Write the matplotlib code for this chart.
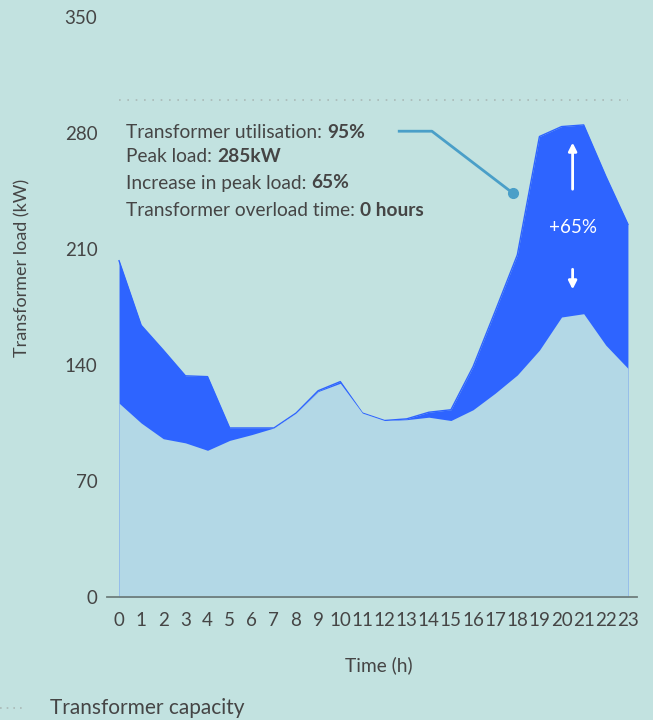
import matplotlib.pyplot as plt
from matplotlib.lines import Line2D
import numpy as np

plt.rcParams['font.family'] = ['Lato', 'DejaVu Sans']

hours = list(range(24))
base_load = [117, 105, 95.5, 93, 88.5, 94.5, 98, 102, 111, 124, 129, 111,
             106.5, 107, 108.5, 106.5, 113, 123, 134, 149, 169, 171, 152, 138]
new_load = [203, 164, 149, 133.5, 133, 102, 102, 102, 111, 124.5, 130, 111,
            106.5, 107.5, 111.5, 113, 139, 172.5, 206.5, 278, 284, 285, 254, 225]
capacity = 300
y_ticks = [0, 70, 140, 210, 280, 350]

bg = '#c2e2e0'
blue = '#2e64ff'
light = '#b3d8e6'
txt = '#454545'
fs = 13.8

fig = plt.figure(figsize=(6.53, 7.2), dpi=100, facecolor=bg)
ax = fig.add_axes([0.164, 0.171, 0.8115, 0.805], facecolor=bg)

ax.fill_between(hours, 0, new_load, color=blue, lw=0, zorder=2)
ax.plot(hours, new_load, color=blue, lw=1, zorder=2)
ax.fill_between(hours, 0, base_load, color=light, lw=0, zorder=3)
ax.plot([0, 23], [capacity, capacity], ls=(0, (1, 4)), color='#a9b9b6', lw=1.2, zorder=1)

ax.set_xlim(-0.54, 23.41)
ax.set_ylim(0, 350)
ax.set_xticks(hours)
ax.set_yticks(y_ticks)
ax.tick_params(length=0, labelsize=13.5, colors=txt, pad=7)
ax.tick_params(axis='x', pad=11)
for s in ['top', 'right', 'left']:
    ax.spines[s].set_visible(False)
ax.spines['bottom'].set_color('#6e7e7c')
ax.spines['bottom'].set_linewidth(1.3)
ax.spines['bottom'].set_zorder(5)

fig.text(22 / 653, 1 - 268 / 720, 'Transformer load (kW)', rotation=90,
         ha='center', va='center', fontsize=13, color=txt)
fig.text(379 / 653, 1 - 665 / 720, 'Time (h)', ha='center', va='center',
         fontsize=fs, color=txt)

# legend at the bottom
fig.add_artist(Line2D([0, 25 / 653], [1 - 708 / 720] * 2, transform=fig.transFigure,
                      ls=(0, (1, 3)), color='#a9b9b6', lw=1.2))
fig.text(50 / 653, 1 - 708 / 720, 'Transformer capacity', ha='left', va='center',
         fontsize=15, color=txt)

# stats box
lines = [('Transformer utilisation: ', '95%'),
         ('Peak load: ', '285kW'),
         ('Increase in peak load: ', '65%'),
         ('Transformer overload time: ', '0 hours')]
ys = [132, 157, 183, 210]
fig.canvas.draw()
r = fig.canvas.get_renderer()
for (a, b), yp in zip(lines, ys):
    t = fig.text(126 / 653, 1 - yp / 720, a, ha='left', va='center',
                 fontsize=fs, color=txt)
    bb = t.get_window_extent(renderer=r)
    fig.text(bb.x1 / fig.bbox.width, 1 - yp / 720, b, ha='left', va='center',
             fontsize=fs, color=txt, fontweight='bold')

# leader line
ax.plot([12.6, 14.14, 17.8], [281.2, 281.2, 243.8], color='#4a9fc8', lw=2, zorder=6,
        solid_capstyle='butt')
ax.plot([17.8], [243.8], 'o', color='#4a9fc8', ms=7, zorder=6)

# +65% arrows
ax.annotate('', xy=(20.5, 276), xytext=(20.5, 244.5),
            arrowprops=dict(arrowstyle='-|>', color='white', lw=2, mutation_scale=12),
            zorder=7)
ax.annotate('', xy=(20.5, 184), xytext=(20.5, 199.5),
            arrowprops=dict(arrowstyle='-|>', color='white', lw=2, mutation_scale=12),
            zorder=7)
ax.text(20.5, 223, '+65%', ha='center', va='center', color='white', fontsize=13.5, zorder=7)

fig.savefig('out.png', dpi=100, facecolor=bg)
